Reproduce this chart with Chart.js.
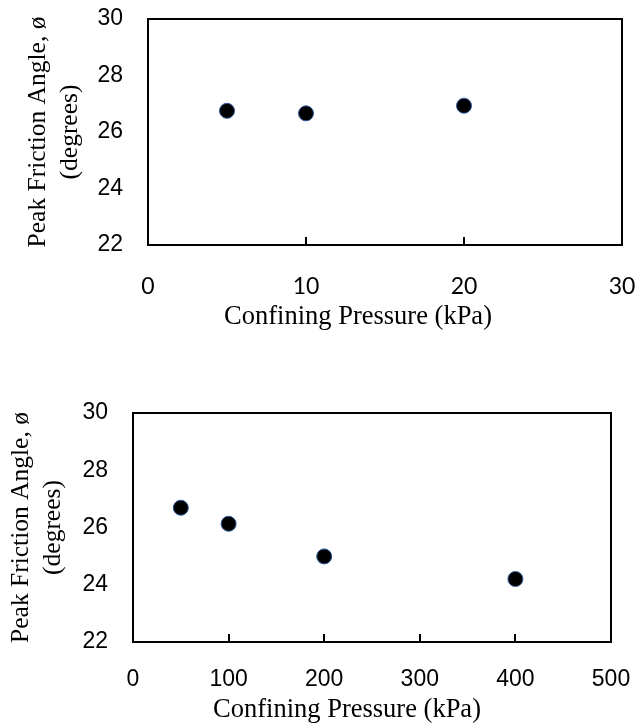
<!DOCTYPE html>
<html>
<head>
<meta charset="utf-8">
<script src="https://cdn.jsdelivr.net/npm/chart.js@4/dist/chart.umd.min.js"></script>
<style>
  html, body { margin: 0; padding: 0; background: #fff; }
  body { width: 636px; height: 725px; position: relative; overflow: hidden; }
  canvas { position: absolute; left: 0; }
  #c1 { top: 0; }
  #c2 { top: 333px; }
</style>
</head>
<body>
<canvas id="c1" width="636" height="333"></canvas>
<canvas id="c2" width="636" height="392"></canvas>
<script>
// Data
const topPressure = [5, 10, 20];            // kPa
const topAngle = [26.75, 26.66, 26.93];     // degrees
const bottomPressure = [50, 100, 200, 400]; // kPa
const bottomAngle = [26.69, 26.13, 24.99, 24.2];

const yTitleLines = ['Peak Friction Angle, ø', '(degrees)'];
const xTitle = 'Confining Pressure (kPa)';
const yTicksRange = { min: 22, max: 30, step: 2 };
const topXRange = { min: 0, max: 30, step: 10 };
const bottomXRange = { min: 0, max: 500, step: 100 };

const frame = {
  id: 'frame',
  afterDatasetsDraw(chart) {
    const { ctx, chartArea: a } = chart;
    ctx.save();
    ctx.strokeStyle = '#000';
    ctx.lineWidth = 2;
    ctx.strokeRect(a.left, a.top, a.right - a.left, a.bottom - a.top);
    ctx.restore();
  }
};

// x-axis title, drawn slightly left of the plot centre as in the reference
const xTitlePlugin = {
  id: 'xTitleText',
  afterDraw(chart, args, opts) {
    const { ctx, chartArea: a } = chart;
    ctx.save();
    ctx.fillStyle = '#000';
    ctx.font = '26.5px "Liberation Serif"';
    ctx.textAlign = 'center';
    ctx.textBaseline = 'middle';
    ctx.fillText(opts.text, (a.left + a.right) / 2 - opts.shift, a.bottom + opts.dy);
    ctx.restore();
  }
};

function zeroPad(s) {
  s.paddingLeft = 0; s.paddingRight = 0; s.paddingTop = 0; s.paddingBottom = 0;
}

function makeChart(id, xs, ys, xr, cfg) {
  const data = xs.map((x, i) => ({ x: x, y: ys[i] }));
  return new Chart(document.getElementById(id), {
    type: 'scatter',
    data: {
      datasets: [{
        data: data,
        backgroundColor: '#000',
        borderColor: '#2f5597',
        borderWidth: 1,
        pointRadius: 7.5,
        pointHoverRadius: 7.5
      }]
    },
    options: {
      responsive: false,
      animation: false,
      events: [],
      plugins: {
        legend: { display: false },
        tooltip: { enabled: false },
        xTitleText: { text: xTitle, shift: cfg.titleShift, dy: cfg.titleDy }
      },
      layout: { padding: { left: 0, top: cfg.top, right: cfg.right, bottom: 0 } },
      scales: {
        x: {
          type: 'linear',
          min: xr.min, max: xr.max,
          afterFit(s) { s.height = cfg.xHeight; zeroPad(s); },
          ticks: {
            stepSize: xr.step,
            color: '#000',
            padding: cfg.xTickPad,
            maxRotation: 0,
            font: { family: cfg.xTickFont, size: 23 }
          },
          grid: {
            drawOnChartArea: false,
            drawTicks: true,
            tickLength: -8,
            color: '#000',
            lineWidth: 2
          },
          border: { display: false },
          title: { display: false }
        },
        y: {
          type: 'linear',
          min: yTicksRange.min, max: yTicksRange.max,
          afterFit(s) { s.width = cfg.yWidth; zeroPad(s); },
          ticks: {
            stepSize: yTicksRange.step,
            color: '#000',
            padding: 25,
            font: { family: 'Liberation Sans', size: 23 }
          },
          grid: { display: false, drawTicks: false, tickLength: 0 },
          border: { display: false },
          title: {
            display: true,
            text: yTitleLines,
            color: '#000',
            padding: { top: cfg.yTitlePad, bottom: 0 },
            font: { family: 'Liberation Serif', size: 25.5, lineHeight: '32px' }
          }
        }
      }
    },
    plugins: [frame, xTitlePlugin]
  });
}

makeChart('c1', topPressure, topAngle, topXRange, {
  top: 19, right: 14, xHeight: 88, yWidth: 148, xTickPad: 36,
  xTickFont: 'Lato', yTitlePad: 22, titleShift: 27, titleDy: 72
});
makeChart('c2', bottomPressure, bottomAngle, bottomXRange, {
  top: 80, right: 25, xHeight: 83, yWidth: 133, xTickPad: 32,
  xTickFont: 'Liberation Sans', yTitlePad: 5, titleShift: 25, titleDy: 68
});
</script>
</body>
</html>
